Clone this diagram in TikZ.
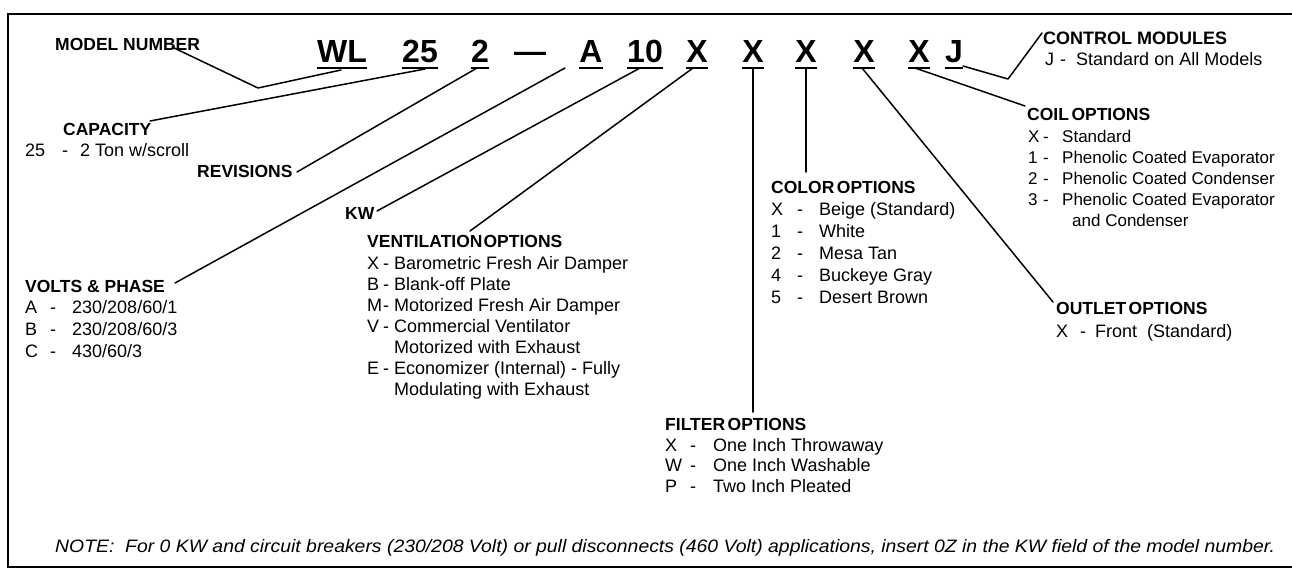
\documentclass[tikz,border=0pt]{standalone}
\usepackage{fontspec}
\setmainfont{Liberation Sans}
\usepackage{graphicx}
\newcommand\opt[4]{\makebox[#1][l]{#3}\makebox[#2][l]{-}#4}
\newcommand\hs{\hspace{2.5pt}}
\begin{document}
\begin{tikzpicture}[x=1pt,y=-1pt,
  hdr/.style={font=\fontsize{17.5}{21}\selectfont\bfseries, inner sep=0pt, anchor=base west},
  item/.style={font=\fontsize{18}{21}\selectfont, inner sep=0pt, anchor=base west},
  smitem/.style={item, font=\fontsize{17}{21}\selectfont},
  mch/.style={font=\fontsize{32}{36}\selectfont\bfseries, inner sep=0pt, anchor=base},
  uline/.style={line width=2pt},
  conn/.style={line width=1.5pt, line cap=round, line join=round},
  frame/.style={line width=1.3pt}]
\useasboundingbox (0,0) rectangle (1292,570);
% frame
\draw[frame] (1292,14) -- (8,14) -- (8,567) -- (1292,567);

% model number characters
\node[mch] (m-wl) at (342,62) {WL};
\node[mch] (m-25) at (420,62) {25};
\node[mch] (m-2)  at (480,62) {2};
\node[mch] (m-dash) at (530,62) {---};
\node[mch] (m-a)  at (591,62) {A};
\node[mch] (m-10) at (645,62) {10};
\node[mch] (m-x1) at (697,62) {X};
\node[mch] (m-x2) at (753,62) {X};
\node[mch] (m-x3) at (806,62) {X};
\node[mch] (m-x4) at (864,62) {X};
\node[mch] (m-x5) at (919,62) {X};
\node[mch] (m-j)  at (954,62) {J};
\foreach \n in {m-wl,m-25,m-2,m-a,m-10,m-x1,m-x2,m-x3,m-x4,m-x5,m-j}
  \draw[uline] ([yshift=-6pt]\n.base west) -- ([yshift=-6pt]\n.base east);

% headers
\node[hdr] (h-model) at (55,50) {MODEL NUMBER};
\node[hdr] (h-cap) at (63,135) {CAPACITY};
\node[item] (i-cap) at (25,156) {\opt{37pt}{18pt}{25}{2 Ton w/scroll}};
\node[hdr] (h-rev) at (197,177) {REVISIONS};
\node[hdr] (h-kw) at (345,219) {KW};

\node[hdr] (h-volt) at (25,292) {VOLTS \& PHASE};
\node[item] (v1) at (25,313) {\opt{25pt}{22pt}{A}{230/208/60/1}};
\node[item] (v2) at (25,335) {\opt{25pt}{22pt}{B}{230/208/60/3}};
\node[item] (v3) at (25,357) {\opt{25pt}{22pt}{C}{430/60/3}};

\node[hdr] (h-vent) at (367,247) {VENTILATION\hspace{1pt}OPTIONS};
\node[item] (e1) at (367,269) {\opt{16pt}{11pt}{X}{Barometric Fresh Air Damper}};
\node[item] (e2) at (367,290) {\opt{16pt}{11pt}{B}{Blank-off Plate}};
\node[item] (e3) at (367,311) {\opt{16pt}{11pt}{M}{Motorized Fresh Air Damper}};
\node[item] (e4) at (367,332) {\opt{16pt}{11pt}{V}{Commercial Ventilator}};
\node[item] (e5) at (394,353) {Motorized with Exhaust};
\node[item] (e6) at (367,374) {\opt{16pt}{11pt}{E}{Economizer (Internal) - Fully}};
\node[item] (e7) at (394,395) {Modulating with Exhaust};

\node[hdr] (h-filt) at (665,430) {FILTER\hs OPTIONS};
\node[item] (f1) at (665,451) {\opt{25pt}{23pt}{X}{One Inch Throwaway}};
\node[item] (f2) at (665,471) {\opt{25pt}{23pt}{W}{One Inch Washable}};
\node[item] (f3) at (665,492) {\opt{25pt}{23pt}{P}{Two Inch Pleated}};

\node[hdr] (h-col) at (771,193) {COLOR\hs OPTIONS};
\node[item] (c1) at (771,215) {\opt{26pt}{22pt}{X}{Beige (Standard)}};
\node[item] (c2) at (771,237) {\opt{26pt}{22pt}{1}{White}};
\node[item] (c3) at (771,259) {\opt{26pt}{22pt}{2}{Mesa Tan}};
\node[item] (c4) at (771,281) {\opt{26pt}{22pt}{4}{Buckeye Gray}};
\node[item] (c5) at (771,303) {\opt{26pt}{22pt}{5}{Desert Brown}};

\node[hdr] (h-out) at (1056,314) {OUTLET\hs OPTIONS};
\node[item] (o1) at (1056,337) {\opt{24pt}{15pt}{X}{Front\ \ (Standard)}};

\node[hdr] (h-coil) at (1027,120) {COIL\hs OPTIONS};
\node[smitem] (k1) at (1028,142) {\opt{15pt}{19pt}{X}{Standard}};
\node[smitem] (k2) at (1028,163) {\opt{15pt}{19pt}{1}{Phenolic Coated Evaporator}};
\node[smitem] (k3) at (1028,184) {\opt{15pt}{19pt}{2}{Phenolic Coated Condenser}};
\node[smitem] (k4) at (1028,205) {\opt{15pt}{19pt}{3}{Phenolic Coated Evaporator}};
\node[smitem] (k5) at (1072,226) {and Condenser};

\node[hdr, font=\fontsize{18}{21}\selectfont\bfseries] (h-ctrl) at (1043,44) {CONTROL MODULES};
\node[item] (j1) at (1045,65) {\opt{15pt}{16pt}{J}{Standard on All Models}};

% note
\node[item] (note) at (55,552) {\resizebox{1220pt}{\height}{\itshape NOTE:\ \ For 0 KW and circuit breakers (230/208 Volt) or pull disconnects (460 Volt) applications, insert 0Z in the KW field of the model number.}};

% connector end points
\coordinate (mn-a) at (172,47);
\coordinate (mn-b) at (258,88);
\coordinate (wl-a) at (341,70);
\coordinate (c25) at (425,69);
\coordinate (cap-e) at (150,121);
\coordinate (c2) at (477,68);
\coordinate (rev-e) at (297,172);
\coordinate (ca) at (565,68);
\coordinate (volt-e) at (175,283);
\coordinate (c10) at (640,68);
\coordinate (kw-e) at (377,211);
\coordinate (cx1) at (693,68);
\coordinate (vent-e) at (470,231);
\coordinate (cx2) at (753,68);
\coordinate (filt-e) at (753,412);
\coordinate (cx3) at (806,68);
\coordinate (col-e) at (806,172);
\coordinate (cx4) at (862,68);
\coordinate (out-e) at (1053,302);
\coordinate (cx5) at (915,68);
\coordinate (coil-e) at (1025,106);
\coordinate (cj) at (963,66);
\coordinate (ctrl-b) at (1008,79);
\coordinate (ctrl-e) at (1042,33);

\draw[conn] (mn-a) -- (mn-b) -- (wl-a);
\draw[conn] (c25) -- (cap-e);
\draw[conn] (c2) -- (rev-e);
\draw[conn] (ca) -- (volt-e);
\draw[conn] (c10) -- (kw-e);
\draw[conn] (cx1) -- (vent-e);
\draw[conn] (cx2) -- (filt-e);
\draw[conn] (cx3) -- (col-e);
\draw[conn] (cx4) -- (out-e);
\draw[conn] (cx5) -- (coil-e);
\draw[conn] (cj) -- (ctrl-b) -- (ctrl-e);
\end{tikzpicture}
\end{document}
